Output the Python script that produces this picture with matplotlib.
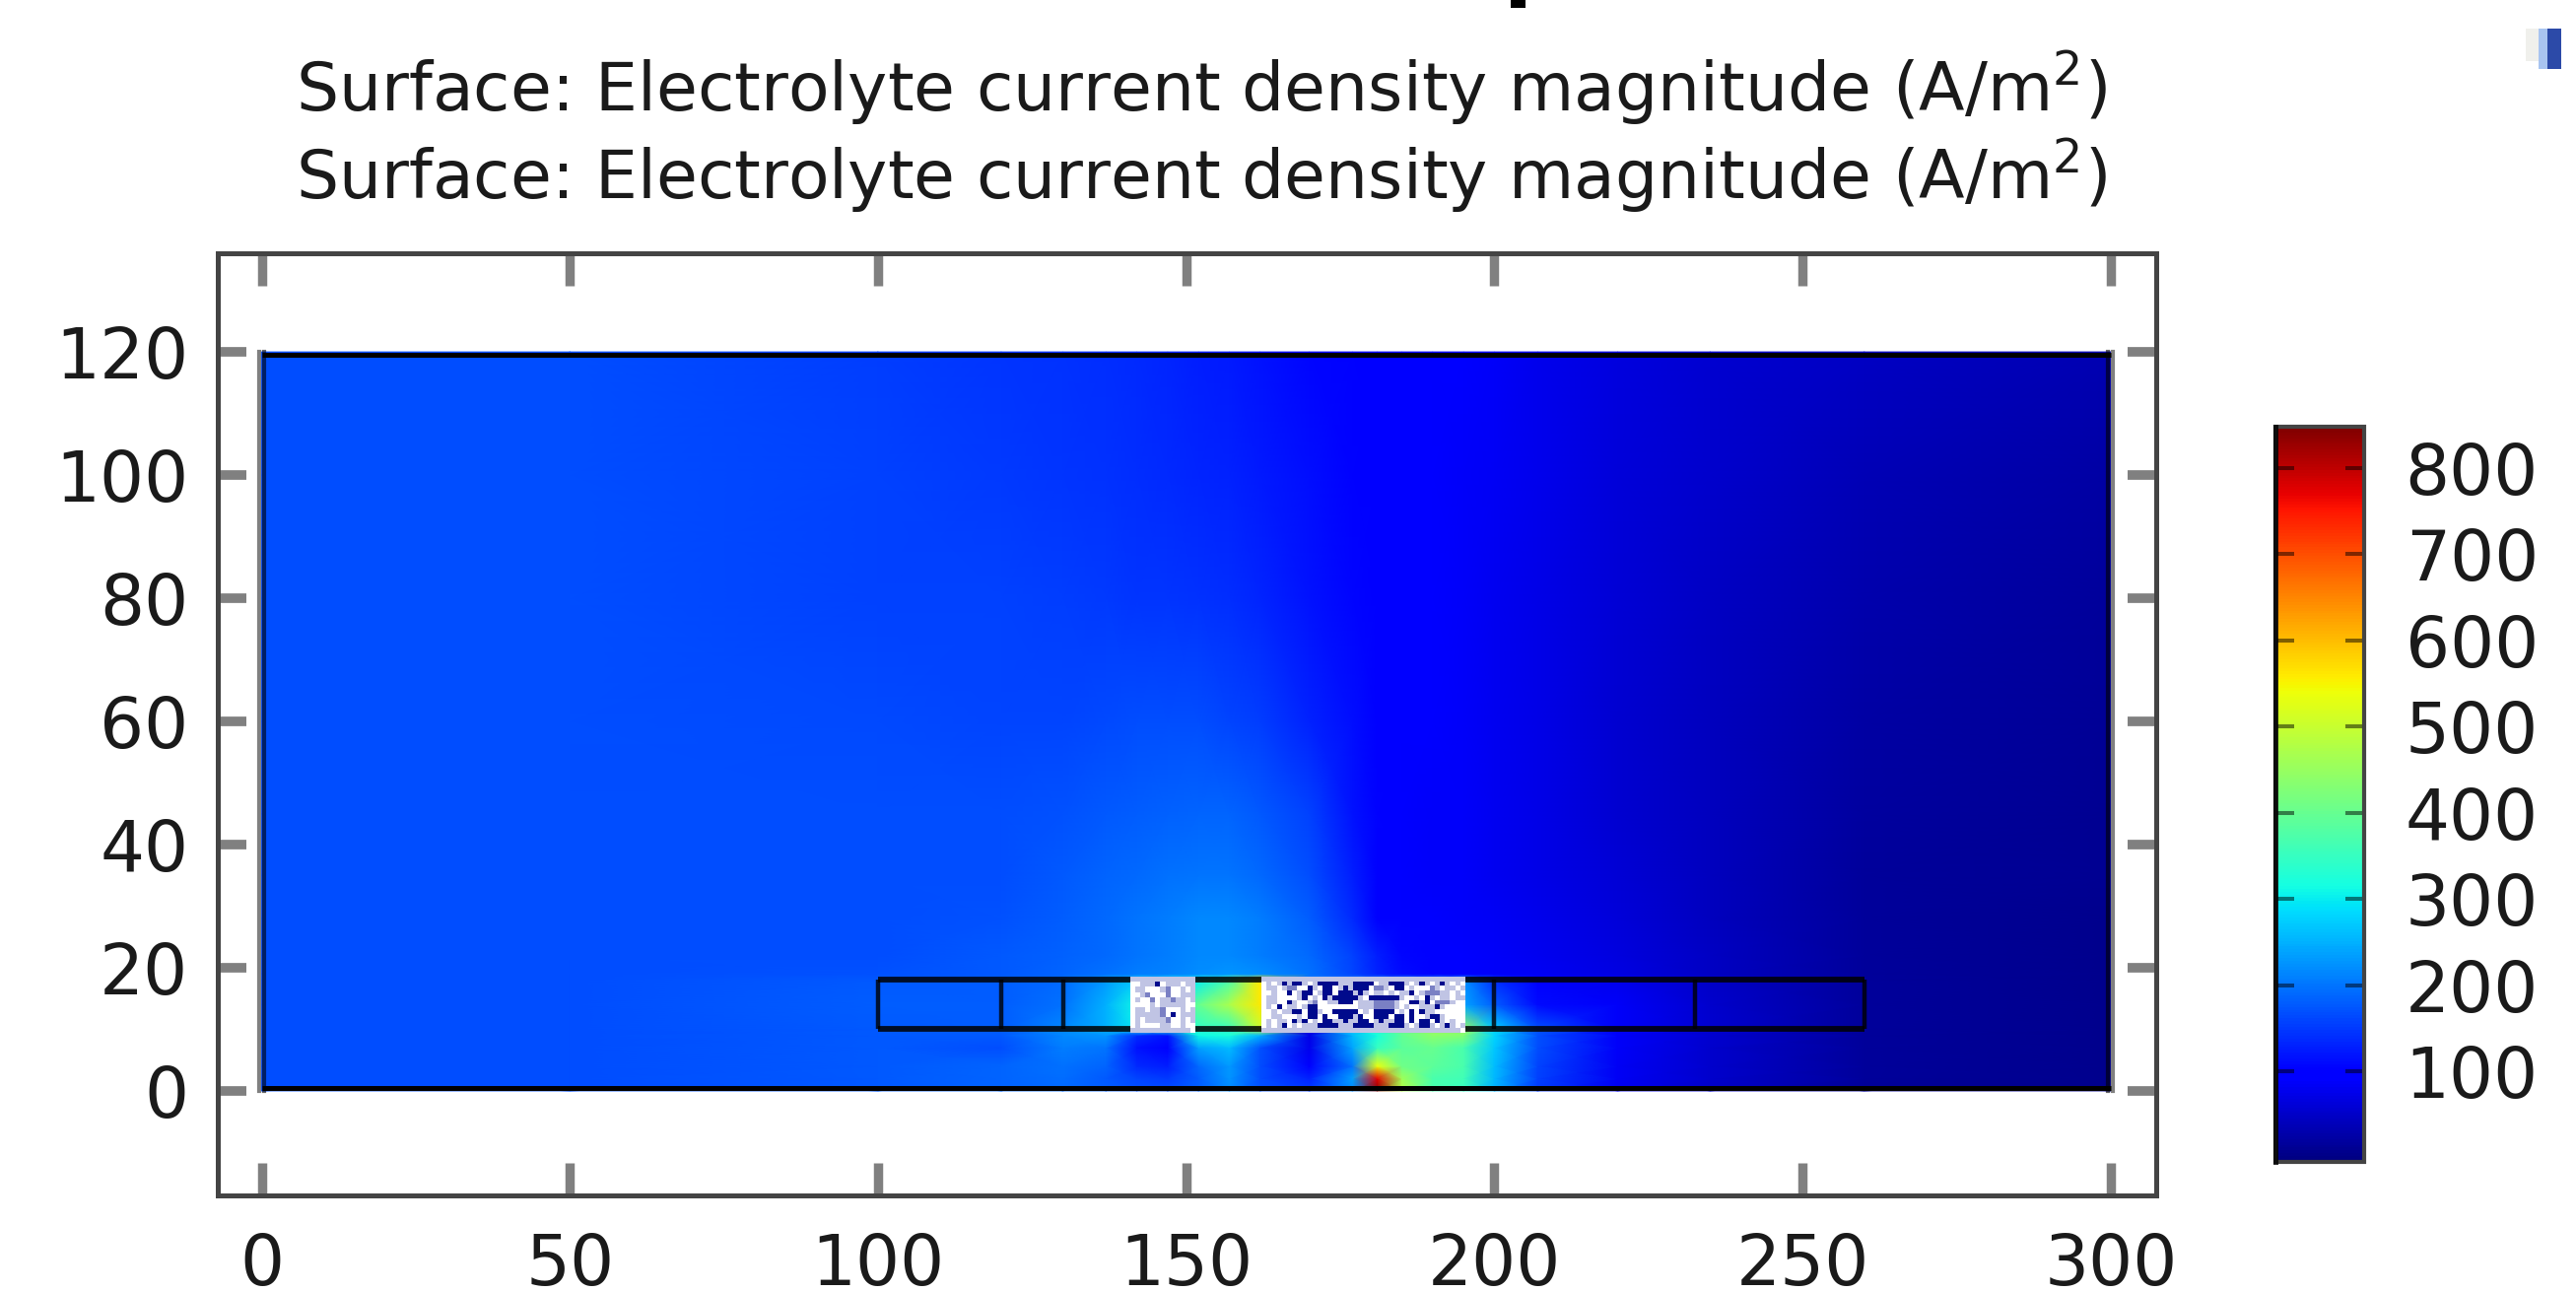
from __future__ import annotations

import matplotlib

matplotlib.use("Agg")

import matplotlib.pyplot as plt
import numpy as np
from matplotlib.colors import ListedColormap
from matplotlib.patches import Rectangle
from matplotlib.transforms import ScaledTranslation

W, H = 2614, 1311
TITLE = "Surface: Electrolyte current density magnitude (A/m$^{2}$)"

X_TICKS = [0, 50, 100, 150, 200, 250, 300]
Y_TICKS = [0, 20, 40, 60, 80, 100, 120]
CBAR_TICKS = [100, 200, 300, 400, 500, 600, 700, 800]

DOMAIN_X = [0, 300]
DOMAIN_Y = [0, 120]
STRIP_X = [100, 260]
STRIP_Y = [10, 18]
STRIP_DIVIDERS = [120, 130, 200, 232.5]
MESH_LEFT_X = [141, 151.5]
MESH_RIGHT_X = [162.2, 195.2]

# field, A/m2
GRID_X = [0, 50, 100, 120, 130, 137, 142, 147, 152, 157, 162, 170, 177, 181, 185, 190, 195, 200, 207, 220, 235, 260, 300]
GRID_Y = [0, 2, 4, 7, 9, 10, 14, 18, 19, 22, 28, 35, 45, 60, 80, 100, 120]
FIELD = [
    [165, 165, 178, 185, 190, 180, 170, 165, 180, 215, 170, 150, 215, 845, 480, 370, 350, 250, 150, 80, 50, 14, 5],
    [165, 165, 178, 185, 192, 178, 160, 150, 180, 225, 165, 130, 235, 770, 460, 370, 360, 255, 155, 82, 52, 15, 5],
    [165, 165, 178, 185, 195, 185, 135, 125, 190, 230, 165, 100, 200, 540, 410, 390, 370, 260, 160, 84, 53, 16, 5],
    [165, 165, 178, 165, 205, 200, 115, 95, 235, 260, 170, 75, 240, 350, 385, 400, 370, 270, 165, 85, 54, 17, 6],
    [165, 165, 178, 175, 215, 225, 140, 115, 310, 320, 250, 72, 255, 320, 395, 440, 430, 280, 170, 87, 55, 18, 6],
    [165, 165, 178, 180, 215, 250, 300, 320, 340, 350, 500, 70, 270, 340, 400, 450, 450, 280, 170, 88, 55, 18, 6],
    [165, 165, 180, 180, 195, 250, 310, 340, 400, 470, 560, 200, 200, 200, 200, 200, 240, 180, 110, 85, 54, 18, 7],
    [165, 165, 175, 180, 190, 230, 270, 280, 300, 370, 560, 200, 200, 200, 200, 200, 220, 140, 95, 75, 50, 18, 7],
    [165, 165, 170, 178, 186, 195, 205, 210, 220, 225, 220, 195, 160, 130, 110, 98, 92, 88, 82, 70, 48, 17, 7],
    [165, 165, 168, 175, 182, 190, 200, 205, 215, 215, 205, 190, 155, 125, 105, 95, 90, 85, 80, 68, 46, 17, 7],
    [165, 165, 165, 170, 180, 190, 200, 205, 215, 215, 205, 180, 135, 100, 92, 90, 88, 82, 76, 62, 42, 17, 8],
    [165, 165, 165, 168, 175, 185, 190, 195, 200, 200, 190, 165, 125, 98, 90, 88, 85, 80, 74, 60, 42, 18, 9],
    [165, 165, 165, 165, 170, 175, 180, 182, 185, 185, 175, 155, 118, 102, 92, 88, 85, 80, 72, 58, 42, 20, 10],
    [165, 165, 162, 160, 160, 162, 165, 165, 165, 160, 152, 130, 112, 100, 95, 90, 86, 80, 72, 58, 44, 24, 12],
    [165, 165, 158, 155, 152, 150, 148, 146, 144, 140, 132, 118, 106, 98, 95, 92, 86, 80, 72, 60, 48, 30, 17],
    [165, 165, 155, 150, 146, 143, 140, 137, 134, 130, 124, 112, 103, 97, 95, 92, 88, 82, 76, 64, 52, 38, 24],
    [165, 165, 152, 146, 142, 139, 136, 132, 128, 124, 118, 108, 102, 97, 95, 92, 90, 85, 78, 68, 58, 46, 32],
]

# mesh speckle, 0 white, 1 pale, 2 lavender, 3 navy
MESH_LEFT = [
    "1111111111111",
    "0011130111011",
    "0110001200101",
    "0012000200111",
    "0100201121101",
    "0000101111100",
    "0110112000101",
    "0111112030111",
    "0101111200101",
    "0100001100100",
    "1111111111110",
]
MESH_RIGHT = [
    "1111111111111111111111111111111111111111",
    "0101313310133331113333011333101310131010",
    "0110122003103301313330221033010002101101",
    "0010030133013303331310110101130122211010",
    "0110000130103133333103333331001031011011",
    "0110031001200113330111222210033130222100",
    "0103011013300000000111222210100111310000",
    "0010113303310033333010333301030311000000",
    "0011000103303003331300333033030013310000",
    "0101103130103311311330131133030330310100",
    "0101301011133331113333111333101331013101",
    "1111111111111111111111111111111111111110",
]


def mesh_array(rows: list[str]) -> np.ndarray:
    return np.array([[int(c) for c in row] for row in rows])


def px_axes(fig, left, top, right, bottom):
    return fig.add_axes([left / W, 1 - bottom / H, (right - left) / W, (bottom - top) / H])


def shifted(ax, fig, dx=0.0, dy=0.0):
    return ax.transData + ScaledTranslation(dx / 100, dy / 100, fig.dpi_scale_trans)


def main() -> None:
    plt.rcParams["font.family"] = "DejaVu Sans"
    plt.rcParams["mathtext.default"] = "regular"
    fig = plt.figure(figsize=(W / 100, H / 100), dpi=100)

    fig.text(300 / W, 1 - 113 / H, TITLE, fontsize=49, va="baseline", color="#1a1a1a")
    fig.text(300 / W, 1 - 202 / H, TITLE, fontsize=49, va="baseline", color="#1a1a1a")

    ax = px_axes(fig, 220.5, 256.5, 2187.5, 1212.5)
    mesh = ax.pcolormesh(GRID_X, GRID_Y, np.array(FIELD), cmap="jet", vmin=-5, vmax=848, shading="gouraud", zorder=1)

    # geometry outlines under the mesh blocks
    strip = dict(color="black", alpha=0.85, lw=4.2, zorder=2, solid_capstyle="butt")
    ax.plot(STRIP_X, [STRIP_Y[0], STRIP_Y[0]], **strip)
    ax.plot(STRIP_X, [STRIP_Y[1], STRIP_Y[1]], **strip)
    for x in [STRIP_X[0], STRIP_X[1]] + STRIP_DIVIDERS:
        ax.plot([x, x], STRIP_Y, color="black", alpha=0.8, lw=3.2, zorder=2, solid_capstyle="butt")

    cmap = ListedColormap(["#ffffff", "#c0c4e4", "#7a80c4", "#000a8c"])
    for rows, xs in [(MESH_LEFT, MESH_LEFT_X), (MESH_RIGHT, MESH_RIGHT_X)]:
        ax.imshow(
            mesh_array(rows),
            cmap=cmap,
            vmin=0,
            vmax=3,
            interpolation="nearest",
            extent=[xs[0], xs[1], 9.5, 18.5],
            aspect="auto",
            origin="upper",
            zorder=3,
        )

    # domain boundary, black top and bottom, grey and navy at the sides
    edge = dict(color="black", lw=3.6, zorder=4, solid_capstyle="butt")
    ax.plot(DOMAIN_X, [DOMAIN_Y[0]] * 2, transform=shifted(ax, fig, dy=2.5), **edge)
    ax.plot(DOMAIN_X, [DOMAIN_Y[1]] * 2, transform=shifted(ax, fig, dy=-2.5), **edge)
    ax.plot([DOMAIN_X[0]] * 2, DOMAIN_Y, transform=shifted(ax, fig, dx=2.5), color="black", alpha=0.6, lw=3.0, zorder=3.5)
    ax.plot([DOMAIN_X[1]] * 2, DOMAIN_Y, transform=shifted(ax, fig, dx=-2.5), color="black", alpha=0.6, lw=3.0, zorder=3.5)
    ax.plot([DOMAIN_X[0]] * 2, DOMAIN_Y, transform=shifted(ax, fig, dx=-2.5), color="#808080", lw=3.0, zorder=3.5)
    ax.plot([DOMAIN_X[1]] * 2, DOMAIN_Y, transform=shifted(ax, fig, dx=2.5), color="#808080", lw=3.0, zorder=3.5)

    ax.set_xlim(-7.2, 307.3)
    ax.set_ylim(-16.9, 136.1)
    ax.set_xticks(X_TICKS)
    ax.set_yticks(Y_TICKS)
    ax.tick_params(axis="x", direction="in", top=True, bottom=True, length=23.5, width=6.8, color="#808080", pad=27, labelsize=51, labelcolor="#1a1a1a")
    ax.tick_params(axis="y", direction="in", left=True, right=True, length=21, width=7, color="#808080", pad=21, labelsize=51, labelcolor="#1a1a1a")
    for spine in ax.spines.values():
        spine.set_color("#444444")
        spine.set_linewidth(3.6)
        spine.set_zorder(5)

    cax = px_axes(fig, 2309, 433, 2399, 1179)
    cb = fig.colorbar(mesh, cax=cax, ticks=CBAR_TICKS)
    cb.minorticks_off()
    cb.outline.set_edgecolor("#444444")
    cb.outline.set_linewidth(3.0)
    cax.tick_params(axis="y", direction="in", left=True, right=True, length=14, width=2.9, color=(0, 0, 0, 0.5), pad=30, labelsize=51, labelcolor="#1a1a1a")
    cax.plot([0, 0], [-5, 848], color="black", alpha=0.8, lw=3.6, zorder=5, clip_on=False)

    # cut-off glyph at the top edge and the corner of a window icon
    fig.add_artist(Rectangle((1533 / W, 1 - 8 / H), 15 / W, 8 / H, transform=fig.transFigure, color="black", lw=0))
    fig.add_artist(Rectangle((2563 / W, 1 - 62 / H), 22 / W, 33 / H, transform=fig.transFigure, color="#f0f0ec", lw=0))
    fig.add_artist(Rectangle((2576 / W, 1 - 70 / H), 9 / W, 41 / H, transform=fig.transFigure, color="#a8c4f0", lw=0))
    fig.add_artist(Rectangle((2585 / W, 1 - 70 / H), 14 / W, 41 / H, transform=fig.transFigure, color="#2c4aa8", lw=0))

    fig.savefig("out.png", dpi=100)
    plt.close(fig)


if __name__ == "__main__":
    main()
